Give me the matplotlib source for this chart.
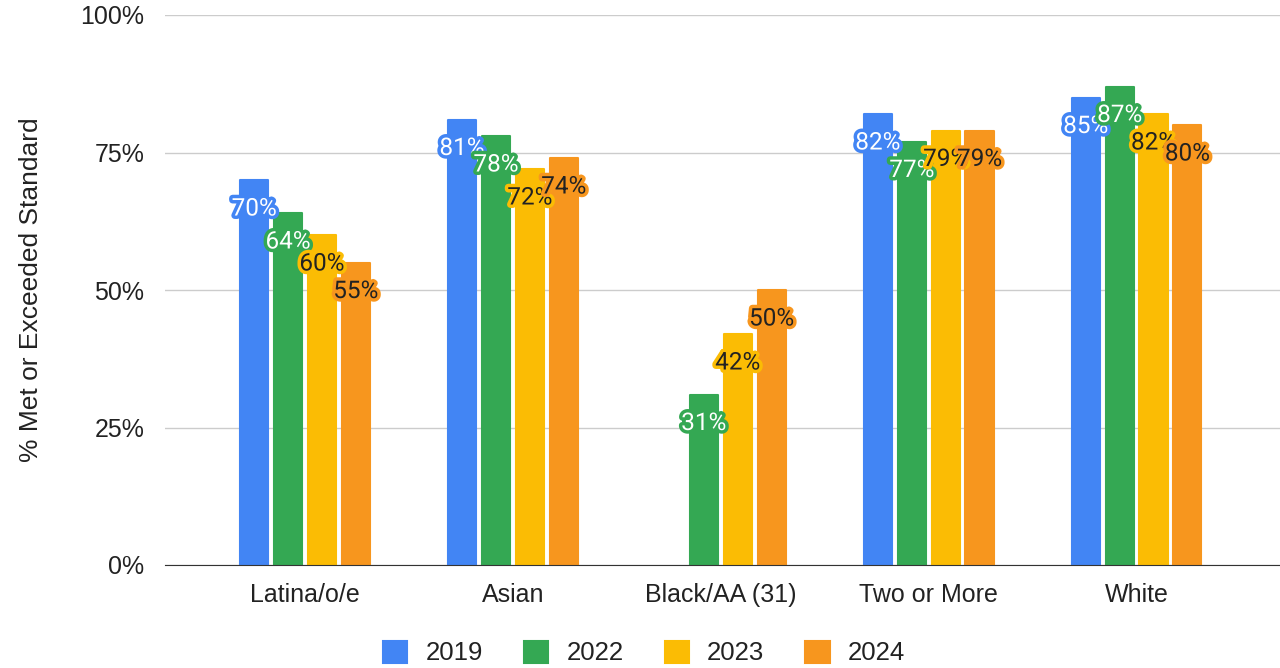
import numpy as np
import matplotlib
matplotlib.use("Agg")
import matplotlib.pyplot as plt
import matplotlib.patheffects as pe

plt.rcParams['font.family'] = ['Liberation Sans', 'DejaVu Sans']

categories = ["Latina/o/e", "Asian", "Black/AA (31)", "Two or More", "White"]
years = ["2019", "2022", "2023", "2024"]
vals_2019 = [70, 81, np.nan, 82, 85]
vals_2022 = [64, 78, 31, 77, 87]
vals_2023 = [60, 72, 42, 79, 82]
vals_2024 = [55, 74, 50, 79, 80]
series = [vals_2019, vals_2022, vals_2023, vals_2024]

colors = ["#4285F4", "#34A853", "#FBBC04", "#F7961E"]
text_colors = ["white", "white", "#222222", "#222222"]

fig = plt.figure(figsize=(12.8, 6.68), dpi=100)
ax = fig.add_axes([165 / 1280, 1 - 565 / 668, 1 - 165 / 1280, 550 / 668])

x = np.arange(len(categories))
width = 0.135
pitch = 0.163

for i, (vals, c, tc) in enumerate(zip(series, colors, text_colors)):
    pos = x + (i - 1.5) * pitch
    ax.bar(pos, vals, width, color=c, edgecolor=c, linewidth=1.5,
           joinstyle='round', label=years[i], zorder=3)
    for xp, v in zip(pos, vals):
        if np.isnan(v):
            continue
        t = ax.annotate(f"{v:.0f}%", (xp, v), xytext=(0, -29),
                        textcoords="offset pixels", family=['Roboto', 'DejaVu Sans'],
                        ha="center", va="center", fontsize=17.5, color=tc, zorder=5)
        t.set_path_effects([pe.withStroke(linewidth=5, foreground=c)])

ax.set_ylim(0, 100)
ax.set_xlim(-0.673, 4.69)
ax.set_yticks([0, 25, 50, 75, 100])
ax.set_yticklabels(["0%", "25%", "50%", "75%", "100%"])
ax.set_xticks(x)
ax.set_xticklabels(categories)
ax.tick_params(axis='both', length=0, labelsize=18, colors="#222222")
ax.tick_params(axis='y', pad=15)
ax.tick_params(axis='x', pad=13)
ax.grid(axis='y', color="#cccccc", linewidth=1, zorder=0)
for s in ["top", "right", "left"]:
    ax.spines[s].set_visible(False)
ax.spines["bottom"].set_color("#333333")
ax.spines["bottom"].set_zorder(4)

ax.set_ylabel("% Met or Exceeded Standard", fontsize=19, color="#222222")
ax.yaxis.set_label_coords(-122 / 1115, 0.5)

leg = fig.legend(loc="center", bbox_to_anchor=(644 / 1280, 1 - 653 / 668), ncol=4,
                 frameon=False, fontsize=18.5, handlelength=0.95, handleheight=0.95,
                 columnspacing=1.6, handletextpad=0.7)
for txt in leg.get_texts():
    txt.set_color("#222222")

fig.savefig("out.png", dpi=100)
